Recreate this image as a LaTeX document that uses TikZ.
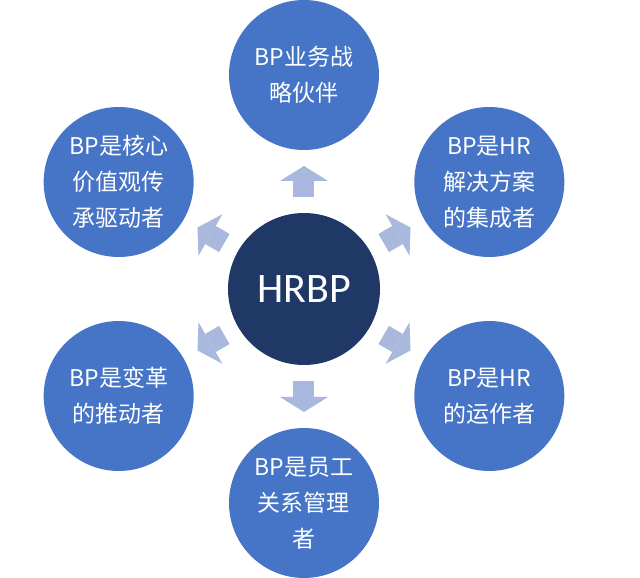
\documentclass[tikz,border=0pt]{standalone}
\usepackage{fontspec}
\setmainfont{Noto Sans CJK SC}
\newfontfamily\corefont{Carlito}
\usepackage{tikz}
\usetikzlibrary{arrows.meta,positioning}
\definecolor{corenavy}{RGB}{31,56,102}
\definecolor{roleblue}{RGB}{70,116,198}
\definecolor{pushblue}{RGB}{169,185,221}

\begin{document}
\begin{tikzpicture}[
    x=1pt, y=1pt,
    core/.style={circle, fill=corenavy, text=white, minimum size=152pt, inner sep=0pt, outer sep=0pt, font=\corefont\fontsize{42}{50}\selectfont},
    role/.style={circle, fill=roleblue, text=white, align=center, minimum size=150pt, inner sep=0pt, outer sep=0pt, font=\fontsize{23}{36}\selectfont},
    push/.style={draw=pushblue, line width=21pt, shorten <=16pt, shorten >=16pt, -{Triangle[length=15pt, width=48pt, line width=0pt]}}
  ]
    \useasboundingbox (-304,-289) rectangle (336,289);
    \node[core] (hrbp) at (0,0) {HRBP};
    \node[role] (partner) at (90:214) {BP业务战\\略伙伴};
    \node[role] (solution) at (30:214) {BP是HR\\解决方案\\的集成者};
    \node[role] (operator) at (-30:214) {BP是HR\\的运作者};
    \node[role] (relations) at (-90:214) {BP是员工\\关系管理\\者};
    \node[role] (change) at (210:214) {BP是变革\\的推动者};
    \node[role] (values) at (150:214) {BP是核心\\价值观传\\承驱动者};

    \draw[push] (hrbp) -- (partner);
    \draw[push] (hrbp) -- (solution);
    \draw[push] (hrbp) -- (operator);
    \draw[push] (hrbp) -- (relations);
    \draw[push] (hrbp) -- (change);
    \draw[push] (hrbp) -- (values);
  \end{tikzpicture}
\end{document}
